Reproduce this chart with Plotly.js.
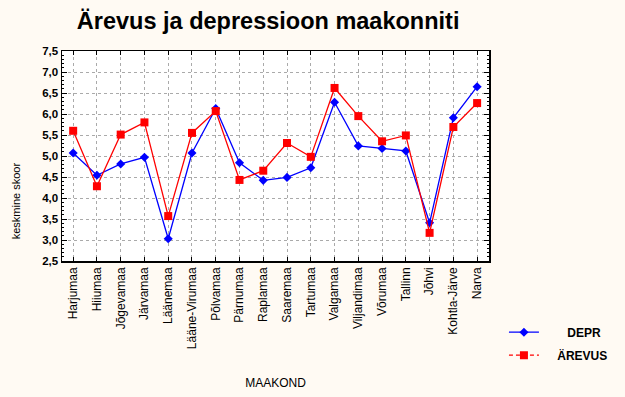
<!DOCTYPE html>
<html>
<head>
<meta charset="utf-8">
<script src="https://cdn.plot.ly/plotly-3.0.1.min.js"></script>
<style>html,body{margin:0;padding:0;background:#FFFAF3;}</style>
</head>
<body>
<div id="chart" style="width:625px;height:397px;"></div>
<script>
const categories = ["Harjumaa","Hiiumaa","Jõgevamaa","Järvamaa","Läänemaa","Lääne-Virumaa","Põlvamaa","Pärnumaa","Raplamaa","Saaremaa","Tartumaa","Valgamaa","Viljandimaa","Võrumaa","Tallinn","Jõhvi","Kohtla-Järve","Narva"];
const depr   = [5.07,4.54,4.81,4.97,3.03,5.07,6.13,4.84,4.42,4.49,4.72,6.28,5.24,5.18,5.12,3.41,5.91,6.65];
const arevus = [5.60,4.28,5.51,5.80,3.57,5.55,6.07,4.43,4.65,5.31,4.98,6.62,5.95,5.35,5.49,3.17,5.69,6.26];
const yTicks = [2.5,3.0,3.5,4.0,4.5,5.0,5.5,6.0,6.5,7.0,7.5];
const seriesNames = ["DEPR", "ÄREVUS"];

const blue = "#0000FF", red = "#FF0000";
const nb = n => "\u00A0".repeat(n);
const traces = [
  {x: categories, y: depr, name: seriesNames[0], type: "scatter", mode: "lines+markers", showlegend: false,
   line: {color: blue, width: 1.3}, marker: {symbol: "diamond", size: 7, color: blue}},
  {x: categories, y: arevus, name: seriesNames[1], type: "scatter", mode: "lines+markers", showlegend: false,
   line: {color: red, width: 1.3}, marker: {symbol: "square", size: 8, color: red}},
  // legend entries (no data)
  {x: [null], y: [null], name: nb(7) + seriesNames[0], type: "scatter", mode: "lines+markers", legendgroup: "a",
   line: {color: blue, width: 1.3}, marker: {symbol: "diamond", size: 7, color: blue}},
  {x: [null], y: [null], name: nb(4) + seriesNames[1], type: "scatter", mode: "lines+markers", legendgroup: "b",
   line: {color: red, width: 1.3, dash: "4px,3px"}, marker: {symbol: "square", size: 8, color: red}}
];

const font = "Liberation Sans, Arial, sans-serif";
const layout = {
  width: 625, height: 397,
  paper_bgcolor: "#FFFAF3", plot_bgcolor: "#FFFFFF",
  separators: ", ",
  margin: {l: 62, r: 127, t: 51, b: 136},
  font: {family: font, color: "#000"},
  title: {text: "<b>Ärevus ja depressioon maakonniti</b>", font: {size: 23.5, family: font, color: "#000"},
          xref: "container", x: 0.429, xanchor: "center", yref: "container", y: 0.948, yanchor: "middle"},
  showlegend: true,
  legend: {x: 1.035, xanchor: "left", y: -0.27, yanchor: "top", bgcolor: "rgba(0,0,0,0)",
           font: {size: 12, family: font, weight: "bold"}, tracegroupgap: 4, itemwidth: 30},
  xaxis: {
    type: "category", range: [-0.47, 17.5],
    tickangle: -90, tickfont: {size: 12, family: font},
    ticks: "inside", ticklen: 4, tickcolor: "#000",
    showline: true, linecolor: "#000", linewidth: 1.5, mirror: "ticks",
    showgrid: true, gridcolor: "#AAAAAA", griddash: "dot", gridwidth: 1,
    title: {text: "MAAKOND", font: {size: 12, family: font}, standoff: 30}
  },
  yaxis: {
    range: [2.5, 7.5], tickvals: yTicks, tickformat: ".1f",
    tickfont: {size: 11.5, family: font, weight: "bold"},
    ticks: "inside", ticklen: 5, tickcolor: "#000",
    minor: {ticks: "inside", dtick: 0.1, ticklen: 2, tickcolor: "#000", showgrid: false},
    showline: true, linecolor: "#000", linewidth: 1.5, mirror: "ticks",
    showgrid: true, gridcolor: "#AAAAAA", griddash: "dot", gridwidth: 1,
    zeroline: false
  },
  annotations: [{
    text: "keskmine skoor", textangle: -90, showarrow: false,
    xref: "paper", x: -0.107, xanchor: "center",
    yref: "paper", y: (261 - 201) / 210, yanchor: "middle",
    font: {size: 11, family: font, color: "#000"}
  }]
};
Plotly.newPlot("chart", traces, layout, {displayModeBar: false, staticPlot: true});
</script>
</body>
</html>
